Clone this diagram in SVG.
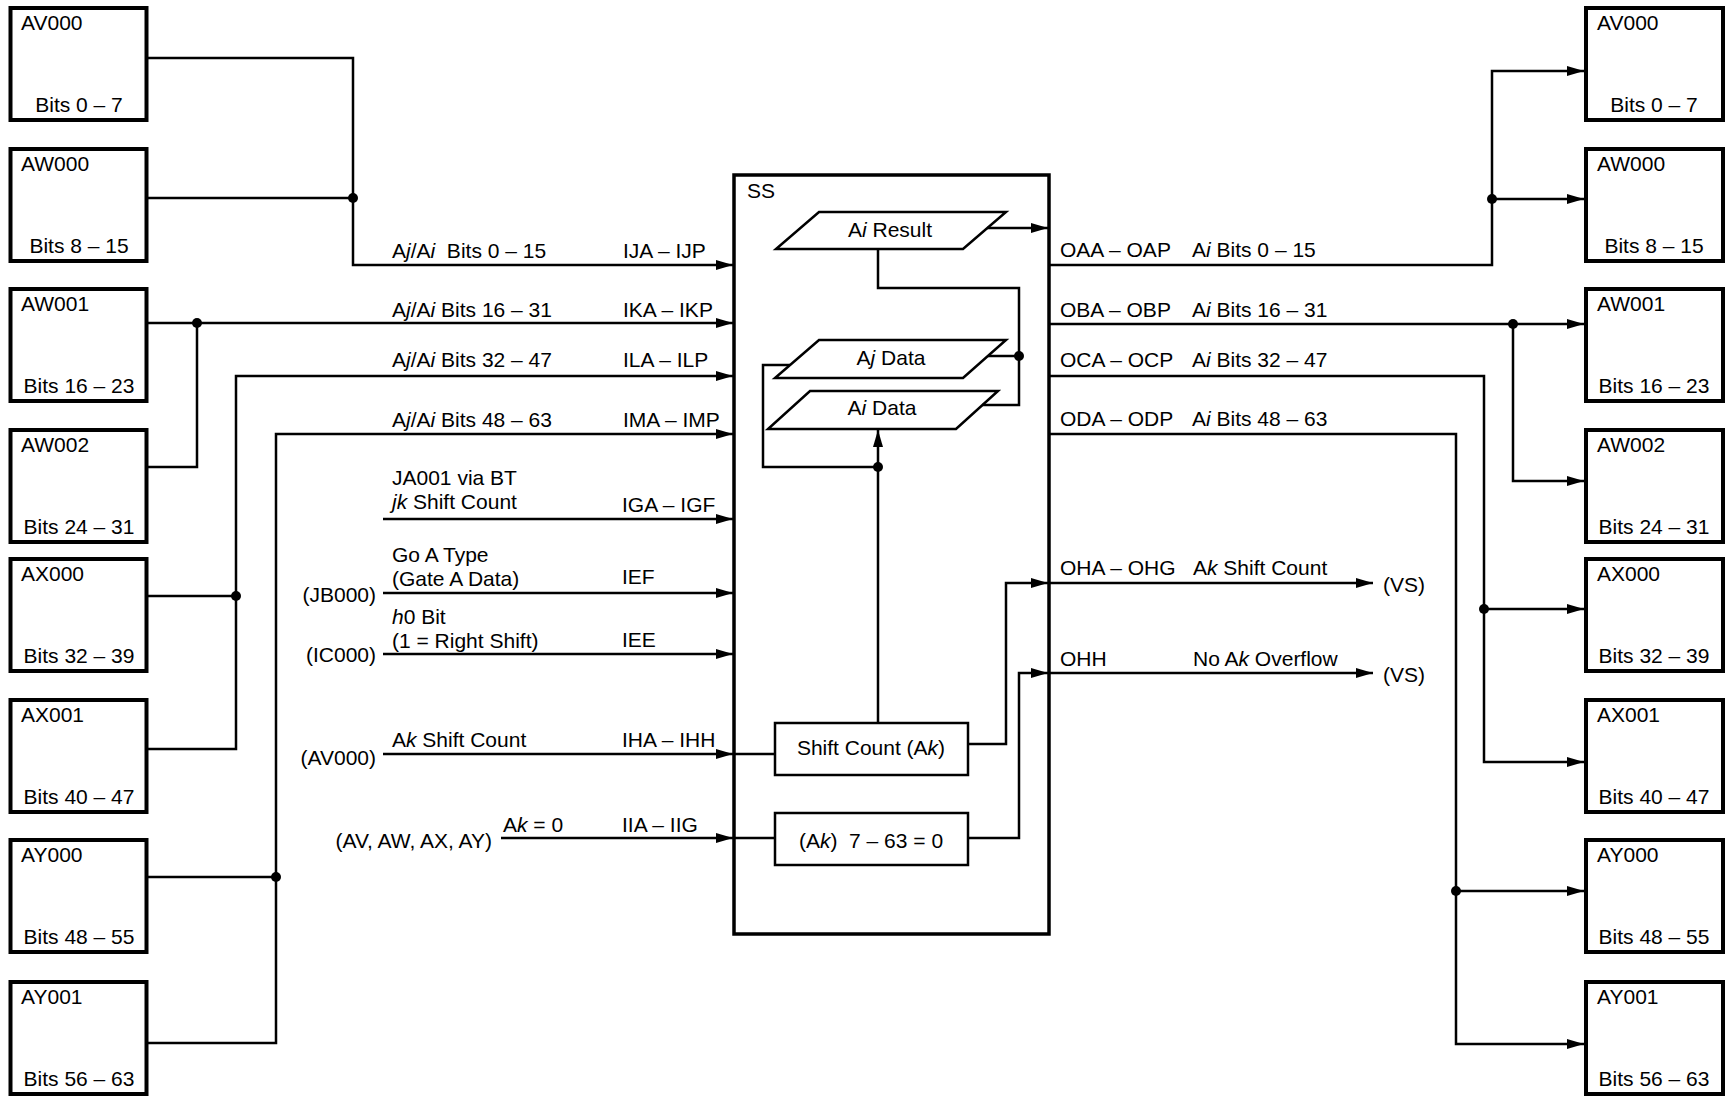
<svg xmlns="http://www.w3.org/2000/svg" width="1732" height="1099" viewBox="0 0 1732 1099">
<style>
text{font-family:"Liberation Sans",Arial,sans-serif;font-size:21px;fill:#000}
.it{font-style:italic}
.mid{text-anchor:middle}
.end{text-anchor:end}
.box{fill:#fff;stroke:#000;stroke-width:4}
.ss{fill:#fff;stroke:#000;stroke-width:3.5}
.inner{fill:#fff;stroke:#000;stroke-width:2.5}
.ln{fill:none;stroke:#000;stroke-width:2.5}
.arr{fill:none;stroke:#000;stroke-width:2.5;marker-end:url(#ah)}
.dot{fill:#000}
</style>
<defs>
<marker id="ah" markerUnits="userSpaceOnUse" markerWidth="18" markerHeight="12" refX="17" refY="5" orient="auto">
<path d="M0,0 L17,5 L0,10 z" fill="#000"/>
</marker>
</defs>
<rect width="1732" height="1099" fill="#fff"/>

<!-- Left source boxes -->
<g id="L-AV000"><rect class="box" x="10.5" y="8" width="136" height="112"/><text x="21" y="30">AV000</text><text class="mid" x="79" y="112">Bits 0 – 7</text></g>
<g id="L-AW000"><rect class="box" x="10.5" y="149" width="136" height="112"/><text x="21" y="171">AW000</text><text class="mid" x="79" y="253">Bits 8 – 15</text></g>
<g id="L-AW001"><rect class="box" x="10.5" y="289" width="136" height="112"/><text x="21" y="311">AW001</text><text class="mid" x="79" y="393">Bits 16 – 23</text></g>
<g id="L-AW002"><rect class="box" x="10.5" y="430" width="136" height="112"/><text x="21" y="452">AW002</text><text class="mid" x="79" y="534">Bits 24 – 31</text></g>
<g id="L-AX000"><rect class="box" x="10.5" y="559" width="136" height="112"/><text x="21" y="581">AX000</text><text class="mid" x="79" y="663">Bits 32 – 39</text></g>
<g id="L-AX001"><rect class="box" x="10.5" y="700" width="136" height="112"/><text x="21" y="722">AX001</text><text class="mid" x="79" y="804">Bits 40 – 47</text></g>
<g id="L-AY000"><rect class="box" x="10.5" y="840" width="136" height="112"/><text x="21" y="862">AY000</text><text class="mid" x="79" y="944">Bits 48 – 55</text></g>
<g id="L-AY001"><rect class="box" x="10.5" y="982" width="136" height="112"/><text x="21" y="1004">AY001</text><text class="mid" x="79" y="1086">Bits 56 – 63</text></g>

<!-- Right destination boxes -->
<g id="R-AV000"><rect class="box" x="1586" y="8" width="137" height="112"/><text x="1597" y="30">AV000</text><text class="mid" x="1654" y="112">Bits 0 – 7</text></g>
<g id="R-AW000"><rect class="box" x="1586" y="149" width="137" height="112"/><text x="1597" y="171">AW000</text><text class="mid" x="1654" y="253">Bits 8 – 15</text></g>
<g id="R-AW001"><rect class="box" x="1586" y="289" width="137" height="112"/><text x="1597" y="311">AW001</text><text class="mid" x="1654" y="393">Bits 16 – 23</text></g>
<g id="R-AW002"><rect class="box" x="1586" y="430" width="137" height="112"/><text x="1597" y="452">AW002</text><text class="mid" x="1654" y="534">Bits 24 – 31</text></g>
<g id="R-AX000"><rect class="box" x="1586" y="559" width="137" height="112"/><text x="1597" y="581">AX000</text><text class="mid" x="1654" y="663">Bits 32 – 39</text></g>
<g id="R-AX001"><rect class="box" x="1586" y="700" width="137" height="112"/><text x="1597" y="722">AX001</text><text class="mid" x="1654" y="804">Bits 40 – 47</text></g>
<g id="R-AY000"><rect class="box" x="1586" y="840" width="137" height="112"/><text x="1597" y="862">AY000</text><text class="mid" x="1654" y="944">Bits 48 – 55</text></g>
<g id="R-AY001"><rect class="box" x="1586" y="982" width="137" height="112"/><text x="1597" y="1004">AY001</text><text class="mid" x="1654" y="1086">Bits 56 – 63</text></g>

<!-- SS block -->
<g id="SS"><rect class="ss" x="734" y="175" width="315" height="759"/><text x="747" y="198">SS</text></g>
<g id="AiResult"><polygon class="inner" points="819,212 1006,212 963,249 776,249"/><text class="mid" x="890" y="237">A<tspan class="it">i</tspan> Result</text></g>
<g id="AjData"><polygon class="inner" points="819,340 1006,340 963,378 775,378"/><text class="mid" x="891" y="365">A<tspan class="it">j</tspan> Data</text></g>
<g id="AiData"><polygon class="inner" points="810,391 998,391 956,429 768,429"/><text class="mid" x="882" y="415">A<tspan class="it">i</tspan> Data</text></g>
<g id="ShiftCount"><rect class="inner" x="775" y="723" width="193" height="52"/><text class="mid" x="871" y="755">Shift Count (A<tspan class="it">k</tspan>)</text></g>
<g id="AkZero"><rect class="inner" x="775" y="813" width="193" height="52"/><text class="mid" x="871" y="848" xml:space="preserve">(A<tspan class="it">k</tspan>)  7 – 63 = 0</text></g>

<!-- Connectors -->
<g id="connectors">
<path class="arr" d="M148,58 H353 V265 H733"/>
<path class="ln" d="M148,198 H353"/>
<path class="arr" d="M148,323 H733"/>
<path class="ln" d="M148,467 H197 V323"/>
<path class="ln" d="M148,596 H236"/>
<path class="arr" d="M148,749 H236 V376 H733"/>
<path class="ln" d="M148,877 H276"/>
<path class="arr" d="M148,1043 H276 V434 H733"/>
<path class="arr" d="M383,519 H733"/>
<path class="arr" d="M383,593 H733"/>
<path class="arr" d="M383,654 H733"/>
<path class="arr" d="M383,754 H733"/>
<path class="ln" d="M733,754 H775"/>
<path class="arr" d="M501,838 H733"/>
<path class="ln" d="M733,838 H775"/>
<path class="arr" d="M987,228 H1048"/>
<path class="ln" d="M878,249 V288 H1019 V405 H982"/>
<path class="ln" d="M988,356 H1019"/>
<path class="ln" d="M790,365 H763 V467 H878"/>
<path class="arr" d="M878,723 V430"/>
<path class="arr" d="M968,744 H1006 V583 H1048"/>
<path class="arr" d="M968,838 H1019 V673 H1048"/>
<path class="arr" d="M1049,583 H1373"/>
<path class="arr" d="M1049,673 H1373"/>
<path class="arr" d="M1049,265 H1492 V71 H1584"/>
<path class="arr" d="M1492,199 H1584"/>
<path class="arr" d="M1049,324 H1584"/>
<path class="arr" d="M1513,324 V481 H1584"/>
<path class="arr" d="M1049,376 H1484 V762 H1584"/>
<path class="arr" d="M1484,609 H1584"/>
<path class="arr" d="M1049,434 H1456 V1044 H1584"/>
<path class="arr" d="M1456,891 H1584"/>
<circle class="dot" cx="353" cy="198" r="5"/>
<circle class="dot" cx="197" cy="323" r="5"/>
<circle class="dot" cx="236" cy="596" r="5"/>
<circle class="dot" cx="276" cy="877" r="5"/>
<circle class="dot" cx="1019" cy="356" r="5"/>
<circle class="dot" cx="878" cy="467" r="5"/>
<circle class="dot" cx="1492" cy="199" r="5"/>
<circle class="dot" cx="1513" cy="324" r="5"/>
<circle class="dot" cx="1484" cy="609" r="5"/>
<circle class="dot" cx="1456" cy="891" r="5"/>
</g>

<!-- Input labels -->
<g id="input-labels">
<text x="392" y="258" xml:space="preserve">A<tspan class="it">j</tspan>/A<tspan class="it">i</tspan>  Bits 0 – 15</text><text x="623" y="258">IJA – IJP</text>
<text x="392" y="317">A<tspan class="it">j</tspan>/A<tspan class="it">i</tspan> Bits 16 – 31</text><text x="623" y="317">IKA – IKP</text>
<text x="392" y="367">A<tspan class="it">j</tspan>/A<tspan class="it">i</tspan> Bits 32 – 47</text><text x="623" y="367">ILA – ILP</text>
<text x="392" y="427">A<tspan class="it">j</tspan>/A<tspan class="it">i</tspan> Bits 48 – 63</text><text x="623" y="427">IMA – IMP</text>
<text x="392" y="485">JA001 via BT</text><text x="392" y="509"><tspan class="it">jk</tspan> Shift Count</text><text x="622" y="512">IGA – IGF</text>
<text x="392" y="562">Go A Type</text><text x="392" y="586">(Gate A Data)</text><text x="622" y="584">IEF</text><text class="end" x="376" y="602">(JB000)</text>
<text x="392" y="624"><tspan class="it">h</tspan>0 Bit</text><text x="392" y="648">(1 = Right Shift)</text><text x="622" y="647">IEE</text><text class="end" x="376" y="662">(IC000)</text>
<text x="392" y="747">A<tspan class="it">k</tspan> Shift Count</text><text x="622" y="747">IHA – IHH</text><text class="end" x="376" y="765">(AV000)</text>
<text x="503" y="832">A<tspan class="it">k</tspan> = 0</text><text x="622" y="832">IIA – IIG</text><text class="end" x="492" y="848">(AV, AW, AX, AY)</text>
</g>

<!-- Output labels -->
<g id="output-labels">
<text x="1060" y="257">OAA – OAP</text><text x="1192" y="257">A<tspan class="it">i</tspan> Bits 0 – 15</text>
<text x="1060" y="317">OBA – OBP</text><text x="1192" y="317">A<tspan class="it">i</tspan> Bits 16 – 31</text>
<text x="1060" y="367">OCA – OCP</text><text x="1192" y="367">A<tspan class="it">i</tspan> Bits 32 – 47</text>
<text x="1060" y="426">ODA – ODP</text><text x="1192" y="426">A<tspan class="it">i</tspan> Bits 48 – 63</text>
<text x="1060" y="575">OHA – OHG</text><text x="1193" y="575">A<tspan class="it">k</tspan> Shift Count</text>
<text x="1060" y="666">OHH</text><text x="1193" y="666">No A<tspan class="it">k</tspan> Overflow</text>
<text x="1383" y="592">(VS)</text>
<text x="1383" y="682">(VS)</text>
</g>
</svg>
